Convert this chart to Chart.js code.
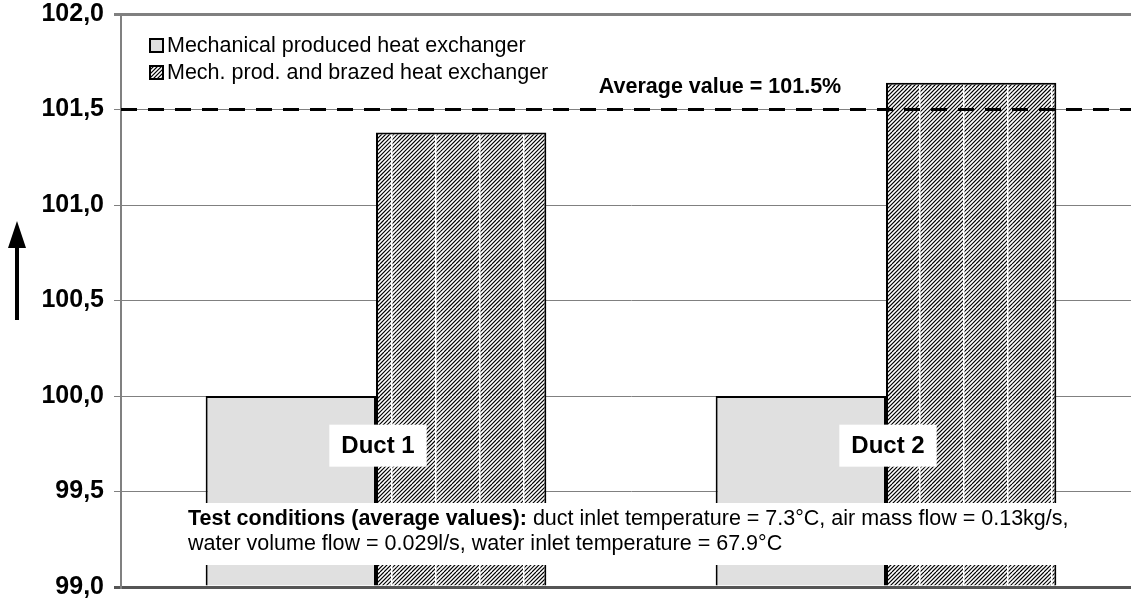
<!DOCTYPE html>
<html>
<head>
<meta charset="utf-8">
<script src="https://cdn.jsdelivr.net/npm/chart.js@4.4.1/dist/chart.umd.min.js"></script>
<style>
  html, body { margin: 0; padding: 0; background: #fff; overflow: hidden; }
  #wrap { width: 1141px; height: 602px; position: relative; }
</style>
</head>
<body>
<div id="wrap"><canvas id="chart"></canvas></div>
<script>
// data
const categories = ['Duct 1', 'Duct 2'];
const mechanical = [100.0, 100.0];
const brazed = [101.38, 101.64];
const seriesNames = ['Mechanical produced heat exchanger', 'Mech. prod. and brazed heat exchanger'];
const averageValue = 101.5;
const yTicks = [99.0, 99.5, 100.0, 100.5, 101.0, 101.5, 102.0];
const conditionsBold = 'Test conditions (average values):';
const conditionsLine1 = ' duct inlet temperature = 7.3°C, air mass flow = 0.13kg/s,';
const conditionsLine2 = 'water volume flow = 0.029l/s, water inlet temperature = 67.9°C';

const FONT = '"Liberation Sans", Arial, sans-serif';

// hatch pattern: "/" lines with thin white verticals
function makeHatch(size, gapAt) {
    const c = document.createElement('canvas');
    c.width = size; c.height = size;
    const g = c.getContext('2d');
    g.fillStyle = '#fff';
    g.fillRect(0, 0, size, size);
    g.strokeStyle = '#000';
    g.lineWidth = 1.2;
    for (let i = -size; i <= size * 2; i += 4) {
        g.beginPath();
        g.moveTo(i, size);
        g.lineTo(i + size, 0);
        g.stroke();
    }
    if (gapAt !== null) {
        g.fillStyle = '#fff';
        g.fillRect(gapAt, 0, 1.5, size);
    }
    return g.createPattern(c, 'repeat');
}

const ctx = document.getElementById('chart').getContext('2d');
const hatch = makeHatch(44, 39);
const hatchSmall = makeHatch(44, null);

const overlayPlugin = {
    id: 'overlay',
    afterDatasetsDraw(chart) {
        const { ctx, chartArea, scales } = chart;
        const x = scales.x, y = scales.y;
        ctx.save();

        // average line
        const ay = y.getPixelForValue(averageValue);
        ctx.strokeStyle = '#000';
        ctx.lineWidth = 3;
        ctx.setLineDash([16, 11]);
        ctx.beginPath();
        ctx.moveTo(chartArea.left, ay);
        ctx.lineTo(chartArea.right, ay);
        ctx.stroke();
        ctx.setLineDash([]);
        ctx.fillStyle = '#000';
        ctx.font = 'bold 21.5px ' + FONT;
        ctx.textAlign = 'center';
        ctx.textBaseline = 'middle';
        ctx.fillText('Average value = ' + averageValue + '%', 720, ay - 22);

        // category labels in white boxes
        ctx.font = 'bold 24px ' + FONT;
        categories.forEach((c, i) => {
            const cx = x.getPixelForValue(i) + 2;
            const cy = y.getPixelForValue(99.74);
            const w = ctx.measureText(c).width + 24;
            ctx.fillStyle = '#fff';
            ctx.fillRect(cx - w / 2, cy - 21, w, 42);
            ctx.fillStyle = '#000';
            ctx.fillText(c, cx, cy + 1);
        });

        // test conditions box
        ctx.fillStyle = '#fff';
        ctx.fillRect(183, 503, 935, 62);
        ctx.fillStyle = '#000';
        ctx.textAlign = 'left';
        ctx.font = 'bold 21.5px ' + FONT;
        ctx.fillText(conditionsBold, 188, 519);
        const bw = ctx.measureText(conditionsBold).width;
        ctx.font = '21.5px ' + FONT;
        ctx.fillText(conditionsLine1, 188 + bw, 519);
        ctx.fillText(conditionsLine2, 188, 544);

        // legend
        const boxes = ['#e0e0e0', hatchSmall];
        seriesNames.forEach((n, i) => {
            const ly = 45 + i * 27;
            ctx.fillStyle = boxes[i];
            ctx.fillRect(150, ly - 6, 13, 13);
            ctx.strokeStyle = '#000';
            ctx.lineWidth = 2;
            ctx.strokeRect(150, ly - 6, 13, 13);
            ctx.fillStyle = '#000';
            ctx.font = '21.5px ' + FONT;
            ctx.fillText(n, 167, ly + 1);
        });

        // y direction arrow
        ctx.strokeStyle = '#000';
        ctx.lineWidth = 4;
        ctx.beginPath();
        ctx.moveTo(17, 320);
        ctx.lineTo(17, 244);
        ctx.stroke();
        ctx.beginPath();
        ctx.moveTo(17, 221);
        ctx.lineTo(26, 248);
        ctx.lineTo(8, 248);
        ctx.closePath();
        ctx.fillStyle = '#000';
        ctx.fill();

        ctx.restore();
    }
};

new Chart(ctx, {
    type: 'bar',
    data: {
        labels: categories,
        datasets: [
            {
                label: seriesNames[0],
                data: mechanical,
                base: 99,
                backgroundColor: '#e0e0e0',
                borderColor: '#000',
                borderWidth: 2
            },
            {
                label: seriesNames[1],
                data: brazed,
                base: 99,
                backgroundColor: hatch,
                borderColor: '#000',
                borderWidth: 2
            }
        ]
    },
    options: {
        responsive: true,
        maintainAspectRatio: false,
        animation: false,
        layout: { padding: { top: 14, bottom: 15, left: 0, right: 0 } },
        datasets: { bar: { categoryPercentage: 0.668, barPercentage: 1 } },
        scales: {
            x: {
                display: false
            },
            y: {
                min: 99,
                max: 102,
                afterFit: s => { s.width = 121; s.paddingTop = 0; s.paddingBottom = 0; },
                afterBuildTicks: s => { s.ticks = yTicks.map(v => ({ value: v })); },
                grid: {
                    color: c => (c.tick && c.tick.value === 99 ? '#555' : '#808080'),
                    lineWidth: c => (c.tick && (c.tick.value === 102 || c.tick.value === 99) ? 3 : 1),
                    tickLength: 7,
                    drawTicks: true
                },
                border: { display: true, color: '#808080', width: 2 },
                ticks: {
                    color: '#000',
                    padding: 10,
                    font: { family: FONT, size: 25, weight: 'bold' },
                    callback: v => v.toFixed(1).replace('.', ',')
                }
            }
        },
        plugins: {
            legend: { display: false },
            tooltip: { enabled: false }
        }
    },
    plugins: [overlayPlugin]
});
</script>
</body>
</html>
